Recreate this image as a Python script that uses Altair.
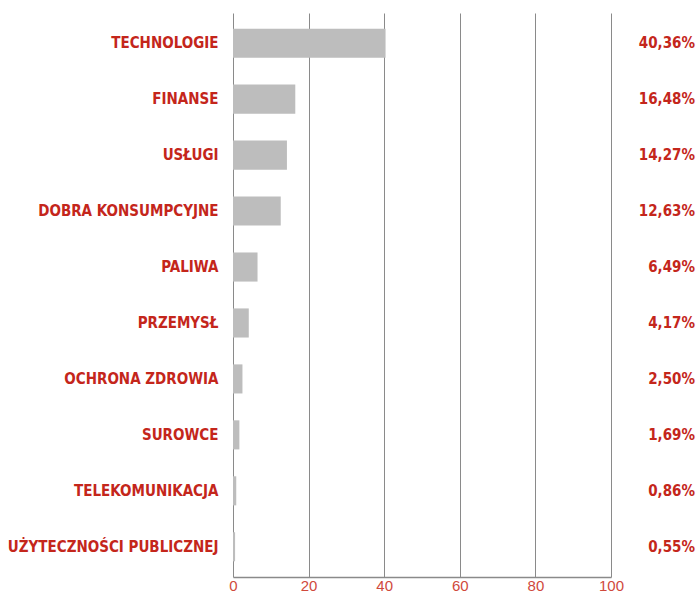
import altair as alt
import pandas as pd

categories = ["TECHNOLOGIE", "FINANSE", "USŁUGI", "DOBRA KONSUMPCYJNE", "PALIWA",
              "PRZEMYSŁ", "OCHRONA ZDROWIA", "SUROWCE", "TELEKOMUNIKACJA",
              "UŻYTECZNOŚCI PUBLICZNEJ"]
values = [40.36, 16.48, 14.27, 12.63, 6.49, 4.17, 2.50, 1.69, 0.86, 0.55]
labels = ["40,36%", "16,48%", "14,27%", "12,63%", "6,49%", "4,17%", "2,50%",
          "1,69%", "0,86%", "0,55%"]
x_ticks = [0, 20, 40, 60, 80, 100]

df = pd.DataFrame({"cat": categories, "val": values, "lab": labels})

RED = "#c4261b"
FONT_B = "DejaVu Sans Condensed, Liberation Sans Narrow, Roboto, sans-serif"

y_enc = alt.Y("cat:N", sort=categories,
              scale=alt.Scale(paddingInner=0.48, paddingOuter=0.28),
              axis=alt.Axis(title=None, ticks=False, domain=False,
                            labelFont=FONT_B, labelFontWeight="bold",
                            labelFontSize=15, labelColor=RED, labelPadding=15,
                            labelLimit=300))

bars = alt.Chart(df).mark_bar(color="#bdbdbd").encode(
    x=alt.X("val:Q", scale=alt.Scale(domain=[0, 100], nice=False),
            axis=alt.Axis(title=None, values=x_ticks, grid=True, gridColor="#8a8a8a",
                          gridWidth=1, gridOpacity=1, ticks=False, labelFlush=False,
                          domainColor="#8a8a8a", domainWidth=1.5,
                          labelFont="Liberation Sans", labelFontSize=15,
                          labelColor="#d0493c", labelPadding=1)),
    y=y_enc,
)

text = alt.Chart(df).mark_text(align="right", baseline="middle", font=FONT_B,
                               fontWeight="bold", fontSize=15, color=RED).encode(
    x=alt.value(462),
    y=alt.Y("cat:N", sort=categories),
    text="lab:N",
)

chart = (bars + text).properties(
    width=378, height=564,
    autosize=alt.AutoSizeParams(type="none"),
    padding={"left": 233, "top": 13, "right": 86, "bottom": 15},
).configure_view(stroke=None).configure_axisY(grid=False)

chart.save("out.html", embed_options={"renderer": "svg", "actions": False})
